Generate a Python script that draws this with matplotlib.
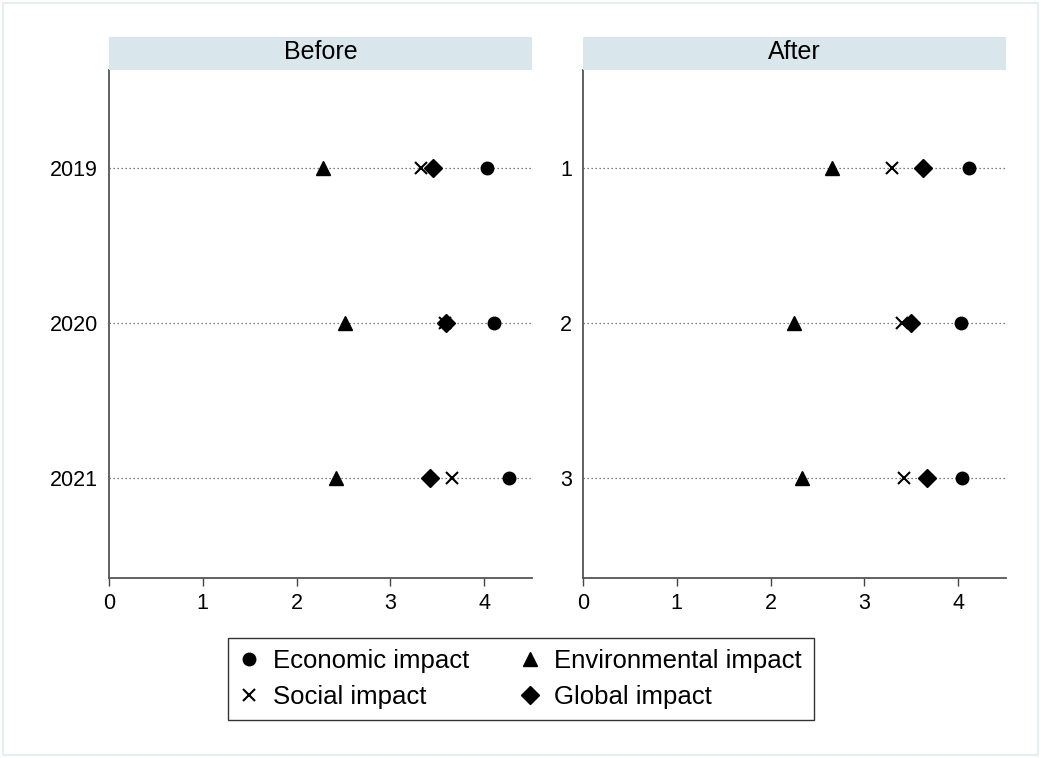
import matplotlib.pyplot as plt
from matplotlib.lines import Line2D
from matplotlib.patches import Rectangle

plt.rcParams['font.family'] = ['Liberation Sans', 'DejaVu Sans']

# row labels per panel
before_labels = ['2019', '2020', '2021']
after_labels = ['1', '2', '3']

# Before panel scores
before_economic = [4.03, 4.10, 4.27]
before_environmental = [2.28, 2.52, 2.42]
before_social = [3.33, 3.58, 3.66]
before_global = [3.45, 3.59, 3.42]

# After panel scores
after_economic = [4.12, 4.03, 4.04]
after_environmental = [2.66, 2.25, 2.33]
after_social = [3.29, 3.40, 3.42]
after_global = [3.62, 3.50, 3.67]

series_names = ['Economic impact', 'Environmental impact', 'Social impact', 'Global impact']
markers = ['o', '^', 'x', 'D']
msizes = [9, 10, 8, 9]

fig = plt.figure(figsize=(10.41, 7.58), dpi=100)
W, H = 1041, 758

# pale outer frame
fig.patches.append(Rectangle((3 / W, 3 / H), 1 - 6 / W, 1 - 6 / H, transform=fig.transFigure,
                             fill=False, edgecolor='#e6efef', lw=1.5))

panels = [
    ('Before', before_labels, [before_economic, before_environmental, before_social, before_global], 109),
    ('After', after_labels, [after_economic, after_environmental, after_social, after_global], 583),
]

top, bottom = 70, 578
for title, labels, series, left in panels:
    ax = fig.add_axes([left / W, 1 - bottom / H, 423 / W, (bottom - top) / H])
    ypos = list(range(1, len(labels) + 1))
    for y in ypos:
        ax.axhline(y, color='#555555', ls=(0, (1, 2.2)), lw=0.9, zorder=1)
    for vals, m, ms in zip(series, markers, msizes):
        if m == 'x':
            ax.plot(vals, ypos, ls='none', marker=m, ms=ms, mew=1.5, color='black', zorder=3)
        else:
            ax.plot(vals, ypos, ls='none', marker=m, ms=ms, color='black', mec='black', zorder=3)
    ax.set_xlim(0, 4.51)
    ax.set_ylim(3.645, 0.368)
    ax.set_xticks([0, 1, 2, 3, 4])
    ax.set_yticks(ypos)
    ax.set_yticklabels(labels)
    ax.tick_params(axis='y', length=0, pad=8, labelsize=15.5)
    ax.tick_params(axis='x', length=6, width=1, color='#444444', labelsize=15.5, pad=5)
    for s in ['top', 'right']:
        ax.spines[s].set_visible(False)
    for s in ['left', 'bottom']:
        ax.spines[s].set_color('#555555')
        ax.spines[s].set_linewidth(1.3)
    # panel header strip
    fig.patches.append(Rectangle((left / W, 1 - 70 / H), 423 / W, 33 / H, transform=fig.transFigure,
                                 facecolor='#d9e6eb', edgecolor='none'))
    fig.text((left + 211.5) / W, 1 - 52 / H, title, ha='center', va='center', fontsize=18)

handles = [Line2D([], [], ls='none', marker=m, ms=ms, color='black', mew=1.5 if m == 'x' else 1)
           for m, ms in zip(markers, msizes)]
# row-wise order: column 1 gets Economic/Social, column 2 Environmental/Global
order = [0, 2, 1, 3]
leg = fig.legend([handles[i] for i in order], [series_names[i] for i in order], ncol=2, loc='center',
                 bbox_to_anchor=(521 / W, 1 - 679 / H), fontsize=18.5, frameon=True,
                 fancybox=False, edgecolor='black', handletextpad=0.6, columnspacing=2.0,
                 handlelength=0.7, borderpad=0.45, labelspacing=0.45)
leg.get_frame().set_linewidth(1.0)

fig.savefig('out.png', dpi=100)
